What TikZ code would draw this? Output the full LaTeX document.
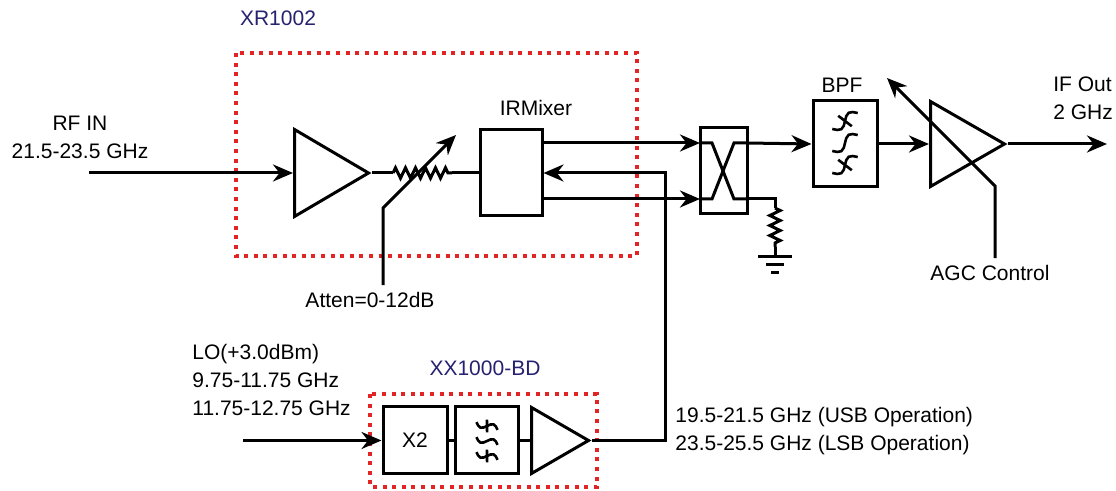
\documentclass[tikz,border=0pt]{standalone}
\usepackage{fontspec}
\setmainfont{Liberation Sans}
\usepackage{tikz}
\usetikzlibrary{arrows.meta,shapes.geometric,decorations.pathmorphing}
\definecolor{dotred}{RGB}{226,36,36}
\definecolor{partblue}{RGB}{38,34,112}
\tikzset{>=Stealth}
\tikzset{%
    sig/.style={line width=1.5pt},
    arr/.style={sig, -{Stealth[length=10pt,width=8.5pt]}},
    blk/.style={draw, line width=1.5pt, inner sep=0pt, fill=white},
    amp/.style={draw, line width=1.5pt, isosceles triangle, isosceles triangle stretches,
        inner sep=0pt, anchor=west},
    res/.style={sig, decorate, decoration={zigzag, segment length=5pt, amplitude=2.6pt}},
    redbox/.style={draw=dotred, line width=2pt, dash pattern=on 2pt off 2.8pt},
    partno/.style={text=partblue},
    wave/.pic={\draw[line width=1.3pt] (-15,0) sin (-7.5,5) cos (0,0) sin (7.5,-5) cos (15,0);},
    cutwave/.pic={\draw[line width=1.3pt] (-15,0) sin (-7.5,5) cos (0,0) sin (7.5,-5) cos (15,0);
        \draw[line width=1.3pt] (-3,-8) -- (3,8);}
}

\begin{document}
\begin{tikzpicture}[x=0.5pt,y=-0.5pt,font=\fontsize{10.5pt}{14pt}\selectfont]
\useasboundingbox (0,0) rectangle (1116,491);
% part outlines
\draw[redbox] (236,53) rectangle (637,256);
\draw[redbox] (370,394) rectangle (597,487);
\node[partno] (xr) at (278,18) {XR1002};
\node[partno] (xx) at (485,368) {XX1000-BD};

% RF chain
\node[amp, minimum height=37pt, minimum width=43.5pt] (amp1) at (293,173) {};
\node[blk, minimum width=31pt, minimum height=43pt] (mixer) at (511,173) {};
\node[blk, minimum width=23.5pt, minimum height=43pt] (hyb) at (723.5,171) {};
\node[blk, minimum width=32pt, minimum height=43pt] (bpf) at (845,144) {};
\node[amp, minimum height=37pt, minimum width=42.5pt] (amp2) at (929,144) {};

\coordinate (rfin) at (89,173);
\coordinate (r1a) at (393,173);
\coordinate (r1b) at (452,173);
\coordinate (h1) at (700,143);
\coordinate (h2) at (700,199);
\coordinate (h3) at (747,143);
\coordinate (h4) at (747,199);
\coordinate (ifout) at (1107,144);

\draw[arr] (rfin) -- (amp1.west);
\draw[sig] (amp1.east) -- (r1a);
\draw[res] (r1a) -- (r1b);
\draw[sig] (r1b) -- (mixer.west);
\draw[arr] (mixer.east |- h1) -- (h1);
\draw[arr] (mixer.east |- h2) -- (h2);
\draw[sig] (h1) -- ++(12,0) -- ++(22,56) -- (h4);
\draw[sig] (h2) -- ++(12,0) -- ++(22,-56) -- (h3);
\draw[arr] (h3) -- (bpf.west);
\draw[arr] (bpf.east) -- (amp2.west);
\draw[arr] (amp2.east) -- (ifout);

% band pass symbol
\pic[rotate=32] at (845,121) {cutwave};
\pic[rotate=32] at (845,143) {wave};
\pic[rotate=32] at (845,165) {cutwave};

% termination
\coordinate (r2a) at (775,208);
\coordinate (r2b) at (775,247);
\coordinate (gnd) at (775,257);
\draw[sig] (h4) -| (r2a);
\draw[res] (r2a) -- (r2b);
\draw[sig] (r2b) -- (gnd);
\draw[sig] (gnd) ++(-17,0) -- ++(34,0);
\draw[sig] (gnd) ++(-9,8) -- ++(18,0);
\draw[sig] (gnd) ++(-4,16) -- ++(8,0);

% attenuator control
\node (attlbl) at (370,300) {Atten=0-12dB};
\coordinate (attk) at (383,208);
\draw[arr] (attlbl.north -| attk) -- (attk) -- ++(73,-73);

% AGC control
\node (agclbl) at (990,273) {AGC Control};
\coordinate (agck) at (995,186);
\draw[arr] (agclbl.north -| agck) -- (agck) -- (887,78);

% labels
\node[align=center] (rflbl) at (80,137) {RF IN\\21.5-23.5 GHz};
\node (mixlbl) at (536,108) {IRMixer};
\node (bpflbl) at (842,85) {BPF};
\node[align=left, anchor=west, inner sep=0pt] (iflbl) at (1053,98) {IF Out\\2 GHz};

% LO chain
\node[blk, minimum width=32pt, minimum height=33.5pt] (x2) at (415,440.5) {X2};
\node[blk, minimum width=31.5pt, minimum height=33.5pt] (lofilt) at (486.5,440.5) {};
\node[amp, minimum height=28.5pt, minimum width=33pt] (amp3) at (530,440.5) {};
\pic[rotate=-20, scale=0.75, line width=1.6pt] at (487,426) {cutwave};
\pic[rotate=-20, scale=0.75] at (487,441) {wave};
\pic[rotate=-20, scale=0.75] at (487,456) {cutwave};

\coordinate (loin) at (243,440.5);
\coordinate (lobend) at (665,173);
\draw[arr] (loin) -- (x2.west);
\draw[sig] (x2.east) -- (lofilt.west);
\draw[sig] (lofilt.east) -- (amp3.west);
\draw[arr] (amp3.east) -| (lobend) -- (mixer.east);

\node[align=left, anchor=west, inner sep=0pt] (lolbl) at (192,380) {LO(+3.0dBm)\\9.75-11.75 GHz\\11.75-12.75 GHz};
\node[align=left, anchor=west, inner sep=0pt] (sblbl) at (675,431) {19.5-21.5 GHz (USB Operation)\\23.5-25.5 GHz (LSB Operation)};
\end{tikzpicture}
\end{document}
